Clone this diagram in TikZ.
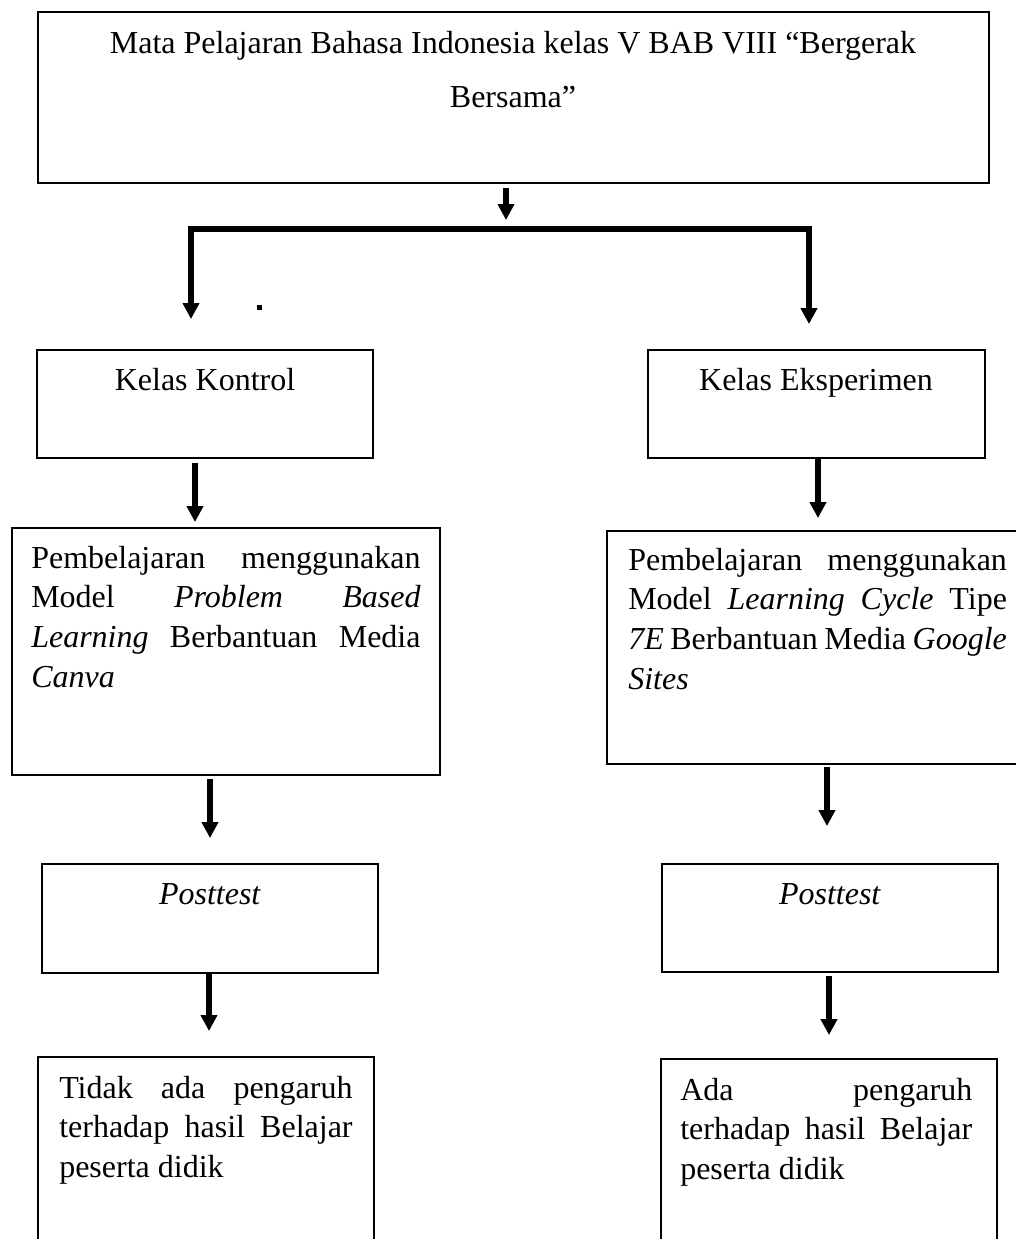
\documentclass[tikz,border=0pt]{standalone}
\usepackage{fontspec}
\setmainfont{Liberation Serif}
\usetikzlibrary{arrows.meta,fit}
\newcommand\jline[2]{\makebox[#1][s]{\strut #2}}
\begin{document}
\begin{tikzpicture}[x=0.75pt,y=-0.75pt,
  box/.style={draw=black, line width=1.45pt, inner sep=0pt, fit={#1}},
  txt/.style={inner sep=0pt, font=\fontsize{24}{29.7}\selectfont, align=left, anchor=north west},
  lbl/.style={inner sep=0pt, font=\fontsize{24}{29.7}\selectfont, anchor=base},
  arr/.style={line width=3.8pt, -{Triangle[width=12pt,length=12pt]}},
  bar/.style={line width=4.5pt}]
\useasboundingbox (0,0) rectangle (1016,1239);
\fill[white] (0,0) rectangle (1016,1239);

% boxes
\node[box={(38,12) (989,183)}] (top) {};
\node[box={(37,350) (373,458)}] (kk) {};
\node[box={(648,350) (985,458)}] (ke) {};
\node[box={(12,528) (440,775)}] (pl) {};
\node[box={(607,531) (1022,764)}] (pr) {};
\node[box={(42,864) (378,973)}] (postL) {};
\node[box={(662,864) (998,972)}] (postR) {};
\node[box={(38,1057) (374,1262)}] (resL) {};
\node[box={(661,1059) (997,1262)}] (resR) {};

% texts
\node[inner sep=0pt, font=\fontsize{24}{40.5}\selectfont, align=center, anchor=north] (ttop) at (513,15.2)
  {\strut Mata Pelajaran Bahasa Indonesia kelas V BAB VIII “Bergerak\\Bersama”};
\node[lbl] (tkk) at (205,390) {Kelas Kontrol};
\node[lbl] (tke) at (816,390) {Kelas Eksperimen};
\node[txt] (tpl) at (31,540.3) {%
  \jline{292pt}{Pembelajaran menggunakan}\\
  \jline{292pt}{Model \textit{Problem} \textit{Based}}\\
  \jline{292pt}{\textit{Learning} Berbantuan Media}\\
  \strut\textit{Canva}};
\node[txt] (tpr) at (628,542.3) {%
  \jline{284pt}{Pembelajaran menggunakan}\\
  \jline{284pt}{Model \textit{Learning} \textit{Cycle} Tipe}\\
  \jline{284pt}{\textit{7E} Berbantuan Media \textit{Google}}\\
  \strut\textit{Sites}};
\node[lbl] (tpostL) at (210,904) {\textit{Posttest}};
\node[lbl] (tpostR) at (830,904) {\textit{Posttest}};
\node[txt] (tresL) at (59,1070.3) {%
  \jline{220pt}{Tidak ada pengaruh}\\
  \jline{220pt}{terhadap hasil Belajar}\\
  \strut peserta didik};
\node[txt] (tresR) at (680,1072.3) {%
  \jline{219pt}{Ada pengaruh}\\
  \jline{219pt}{terhadap hasil Belajar}\\
  \strut peserta didik};

% stray dot
\node[fill=black, minimum size=3.75pt, inner sep=0pt] (dot) at (259,307) {};

% connector columns
\coordinate (barL) at (188,229);
\coordinate (barR) at (812,229);
\coordinate (c0) at (506,0);
\coordinate (c1) at (191,232);
\coordinate (c2) at (809,232);
\coordinate (c3) at (195,0);
\coordinate (c4) at (818,0);
\coordinate (c5) at (210,0);
\coordinate (c6) at (827,0);
\coordinate (c7) at (209,0);
\coordinate (c8) at (829,0);

\draw[bar] (barL) -- (barR);
\draw[arr, shorten <=3pt, shorten >=6.75pt] (top.south -| c0) -- (barL -| c0);
\draw[arr, shorten >=22.5pt] (c1) -- (kk.north -| c1);
\draw[arr, shorten >=18.75pt] (c2) -- (ke.north -| c2);
\draw[arr, shorten <=3pt, shorten >=3.75pt] (kk.south -| c3) -- (pl.north -| c3);
\draw[arr, shorten >=9pt] (ke.south -| c4) -- (pr.north -| c4);
\draw[arr, shorten <=2.25pt, shorten >=18.75pt] (pl.south -| c5) -- (postL.north -| c5);
\draw[arr, shorten <=1.5pt, shorten >=27.75pt] (pr.south -| c6) -- (postR.north -| c6);
\draw[arr, shorten >=18.75pt] (postL.south -| c7) -- (resL.north -| c7);
\draw[arr, shorten <=2.25pt, shorten >=17.25pt] (postR.south -| c8) -- (resR.north -| c8);
\end{tikzpicture}
\end{document}
